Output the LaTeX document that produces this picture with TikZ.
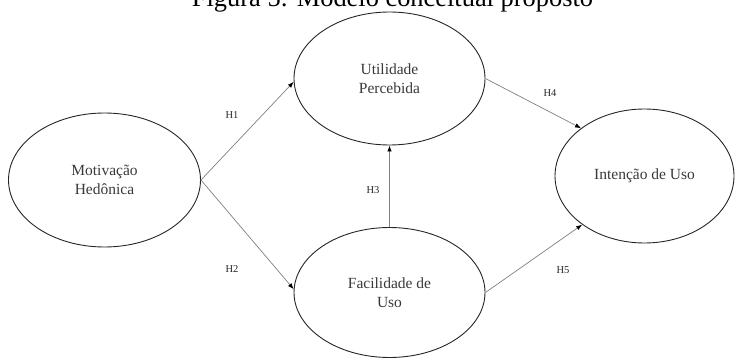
\documentclass[tikz,border=0pt]{standalone}
\usepackage{fontspec}
\setmainfont{Liberation Serif}
\usetikzlibrary{shapes.geometric,arrows.meta}
\begin{document}
\begin{tikzpicture}[x=1pt,y=-1pt,
  construct/.style={ellipse,draw=black!85,line width=0.9pt,inner sep=0pt,text=black!78,
    font=\fontsize{15.5}{19.5}\selectfont,align=center},
  hyp/.style={draw=black!50,line width=0.7pt,-{Latex[length=6pt,width=4.5pt,color=black]}},
  hlabel/.style={font=\fontsize{10.5}{12}\selectfont,text=black!85,inner sep=0pt}]
\useasboundingbox (0,0) rectangle (736,358);
\node[anchor=base,font=\fontsize{26.4}{30}\selectfont,inner sep=0pt] (title) at (392.5,7) {Figura 5: Modelo conceitual proposto};
\node[construct,minimum width=192pt,minimum height=134pt] (mh) at (104.5,180) {Motivação\\Hedônica};
\node[construct,minimum width=191pt,minimum height=133pt] (up) at (389.5,78.5) {Utilidade\\Percebida};
\node[construct,minimum width=191pt,minimum height=130pt] (fu) at (389.5,292.5) {Facilidade de\\Uso};
\node[construct,minimum width=179pt,minimum height=134pt] (iu) at (644.5,176) {Intenção de Uso};
\draw[hyp] (mh.east) -- (up.182);
\draw[hyp] (mh.east) -- (fu.178);
\draw[hyp] (fu.north) -- (up.south);
\draw[hyp] (up.east) -- (iu.143);
\draw[hyp] (fu.east) -- (iu.218);
\node[hlabel] (h1) at (232,115) {H1};
\node[hlabel] (h2) at (232,269) {H2};
\node[hlabel] (h3) at (373,190) {H3};
\node[hlabel] (h4) at (550,93) {H4};
\node[hlabel] (h5) at (563,270) {H5};
\end{tikzpicture}
\end{document}
